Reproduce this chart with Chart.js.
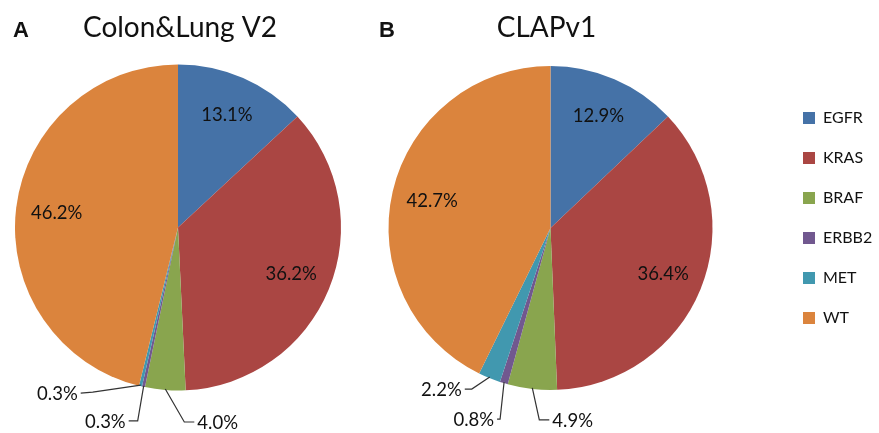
<!DOCTYPE html>
<html><head><meta charset="utf-8">
<script src="https://cdn.jsdelivr.net/npm/chart.js@4.4.1/dist/chart.umd.min.js"></script>
<style>
html,body{margin:0;padding:0;background:#fff;}
#wrap{position:relative;width:879px;height:433px;overflow:hidden;}
canvas{position:absolute;left:0;top:0;}
</style></head><body>
<div id="wrap"><canvas id="cA" width="879" height="433"></canvas><canvas id="cB" width="879" height="433"></canvas></div>
<script>
// ---- data ----
const categories = ['EGFR', 'KRAS', 'BRAF', 'ERBB2', 'MET', 'WT'];
const colonLungV2 = [13.1, 36.2, 4.0, 0.3, 0.3, 46.2];
const clapV1 = [12.9, 36.4, 4.9, 0.8, 2.2, 42.7];
const panelTitles = ['Colon&Lung V2', 'CLAPv1'];
const panelLetters = ['A', 'B'];

// ---- styles ----
const colors = ['#4572A7', '#AA4643', '#89A54E', '#71588F', '#4198AF', '#DB843D'];
const textColor = '#111';

const pctLabels = {
  id: 'pctLabels',
  afterDatasetsDraw(chart, args, opts) {
    const ctx = chart.ctx;
    const meta = chart.getDatasetMeta(0);
    const vals = chart.data.datasets[0].data;
    ctx.save();
    ctx.font = '18.5px Lato';
    ctx.fillStyle = textColor;
    ctx.strokeStyle = '#333';
    ctx.lineWidth = 1.2;
    meta.data.forEach((arc, i) => {
      const p = arc.getProps(['x', 'y', 'startAngle', 'endAngle', 'outerRadius'], true);
      const mid = (p.startAngle + p.endAngle) / 2;
      const txt = vals[i].toFixed(1) + '%';
      const lead = opts.leaders[i];
      if (!lead) {
        const r = p.outerRadius * 0.75;
        ctx.textAlign = 'center';
        ctx.textBaseline = 'middle';
        ctx.fillText(txt, p.x + Math.cos(mid) * r, p.y + Math.sin(mid) * r);
      } else {
        const ax = p.x + Math.cos(mid) * (p.outerRadius - 1);
        const ay = p.y + Math.sin(mid) * (p.outerRadius - 1);
        const ex = ax + lead.elbow[0], ey = ay + lead.elbow[1];
        const tx = ax + lead.end[0], ty = ay + lead.end[1];
        ctx.beginPath();
        ctx.moveTo(ax, ay);
        ctx.lineTo(ex, ey);
        ctx.lineTo(tx, ty);
        ctx.stroke();
        ctx.textBaseline = 'middle';
        if (lead.align === 'left') {
          ctx.textAlign = 'left';
          ctx.fillText(txt, tx + 3, ty + 1);
        } else {
          ctx.textAlign = 'right';
          ctx.fillText(txt, tx - 3, ty + 1);
        }
      }
    });
    ctx.restore();
  }
};

const panelTitle = {
  id: 'panelTitle',
  afterDraw(chart, args, opts) {
    const ctx = chart.ctx;
    const cx = chart.getDatasetMeta(0).data[0].x;
    ctx.save();
    ctx.fillStyle = textColor;
    ctx.textBaseline = 'alphabetic';
    ctx.textAlign = 'center';
    ctx.font = 'bold 22px "Liberation Sans"';
    ctx.fillText(opts.letter, opts.letterX, 37);
    ctx.font = '28px Lato';
    ctx.fillText(opts.title, cx + opts.titleDx, 37);
    ctx.restore();
  }
};

const legendShift = {
  id: 'legendShift',
  afterLayout(chart, args, opts) {
    if (chart.legend) {
      chart.legend.top += opts.dy;
      chart.legend.bottom += opts.dy;
    }
  }
};

function makePie(id, values, pad, titleOpts, leaders, showLegend) {
  return new Chart(document.getElementById(id), {
    type: 'pie',
    data: {
      labels: categories,
      datasets: [{ data: values, backgroundColor: colors, borderWidth: 0 }]
    },
    options: {
      responsive: false,
      animation: false,
      devicePixelRatio: 1,
      events: [],
      layout: { padding: pad },
      plugins: {
        tooltip: { enabled: false },
        title: { display: false },
        legend: {
          display: showLegend,
          position: 'right',
          maxWidth: 100,
          labels: {
            boxWidth: 12, boxHeight: 12, padding: 24,
            color: '#111',
            font: { family: 'Lato', size: 16 }
          }
        },
        pctLabels: { leaders: leaders },
        panelTitle: titleOpts,
        legendShift: { dy: -10 }
      }
    },
    plugins: [pctLabels, panelTitle, legendShift]
  });
}

makePie('cA', colonLungV2,
  { left: 15, right: 538, top: 64.5, bottom: 42.5 },
  { letter: panelLetters[0], letterX: 21, title: panelTitles[0], titleDx: 2 },
  {
    2: { elbow: [19, 33], end: [29, 33], align: 'left' },
    3: { elbow: [-6, 35], end: [-15, 35], align: 'right' },
    4: { elbow: [-48, 7], end: [-60, 8], align: 'right' }
  }, false);

makePie('cB', clapV1,
  { left: 322, right: 0, top: 66, bottom: 43 },
  { letter: panelLetters[1], letterX: 387, title: panelTitles[1], titleDx: -4 },
  {
    2: { elbow: [7, 32], end: [17, 32], align: 'left' },
    3: { elbow: [-4, 37], end: [-7, 37], align: 'right' },
    4: { elbow: [-18, 12], end: [-25, 12], align: 'right' }
  }, true);
</script>
</body></html>
